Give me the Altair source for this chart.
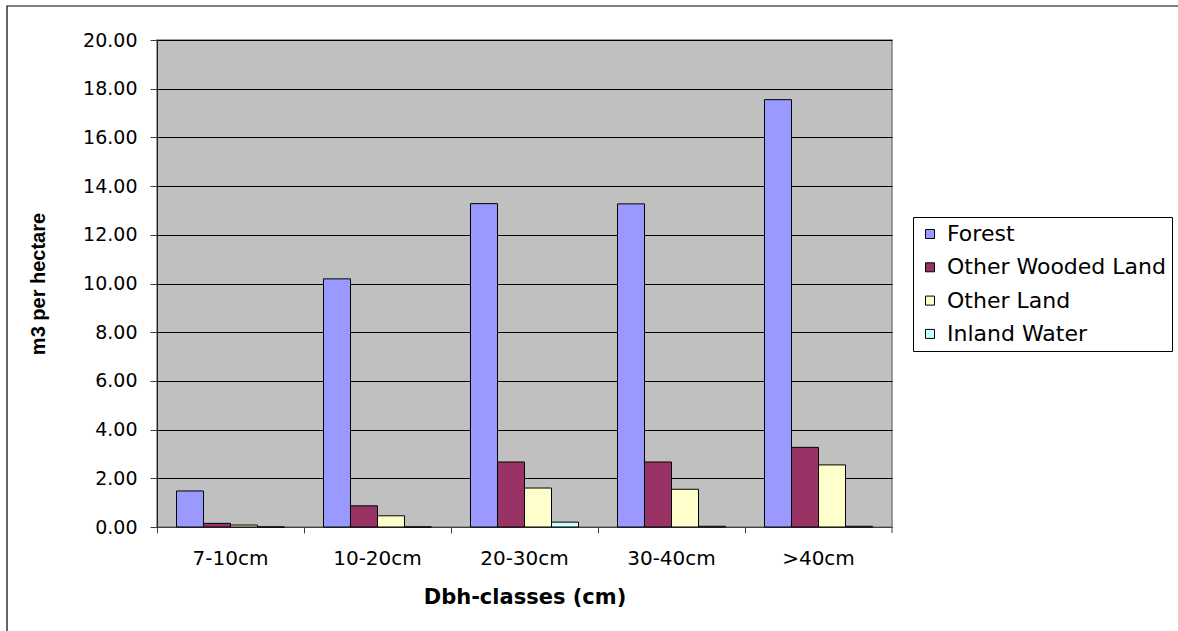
import altair as alt
import pandas as pd

# Standing volume per hectare by diameter class and land category
classes = ["7-10cm", "10-20cm", "20-30cm", "30-40cm", ">40cm"]
series = ["Forest", "Other Wooded Land", "Other Land", "Inland Water"]
forest = [1.48, 10.19, 13.28, 13.27, 17.55]
other_wooded = [0.15, 0.87, 2.67, 2.67, 3.27]
other_land = [0.08, 0.46, 1.60, 1.55, 2.55]
inland_water = [0.00, 0.00, 0.20, 0.03, 0.03]
colors = ["#9999FF", "#993366", "#FFFFCC", "#CCFFFF"]
y_ticks = [0, 2, 4, 6, 8, 10, 12, 14, 16, 18, 20]

rows = []
for name, vals in zip(series, [forest, other_wooded, other_land, inland_water]):
    for cls, v in zip(classes, vals):
        rows.append({"cls": cls, "series": name, "value": v})
df = pd.DataFrame(rows)

W, H = 735, 487
LEFT, TOP = 157, 40
TOTAL_W, TOTAL_H = 1178, 631

bars = alt.Chart(df).mark_bar(stroke="black", strokeWidth=1).encode(
    x=alt.X(
        "cls:N",
        sort=classes,
        scale=alt.Scale(paddingInner=0, paddingOuter=0),
        axis=alt.Axis(
            title="Dbh-classes (cm)",
            labelAngle=0,
            bandPosition=0,
            tickSize=6,
            tickColor="#404040",
            domainColor="#404040",
            labelPadding=15,
            labelFontSize=20,
            labelColor="black",
            titleFontSize=21,
            titleFontWeight="bold",
            titleColor="black",
            titleY=76,
            titleBaseline="alphabetic",
            grid=False,
        ),
    ),
    xOffset=alt.XOffset(
        "series:N", sort=series, scale=alt.Scale(paddingInner=0, paddingOuter=0.722)
    ),
    y=alt.Y(
        "value:Q",
        scale=alt.Scale(domain=[0, 20], nice=False),
        axis=alt.Axis(
            title="m3 per hectare",
            values=y_ticks,
            format=".2f",
            tickSize=7,
            tickColor="#404040",
            domainColor="#202020",
            labelPadding=13,
            labelFontSize=19,
            labelColor="black",
            grid=True,
            gridColor="black",
            gridWidth=1,
            titleFont="Liberation Sans",
            titleFontSize=20,
            titleFontWeight="bold",
            titleColor="black",
            titleAngle=270,
            titleAlign="center",
            titleBaseline="alphabetic",
            titleX=-113,
            titleY=H / 2,
        ),
    ),
    color=alt.Color(
        "series:N",
        sort=series,
        scale=alt.Scale(domain=series, range=colors),
        legend=alt.Legend(
            title=None,
            orient="none",
            legendX=756,
            legendY=177,
            strokeColor="black",
            fillColor="white",
            padding=6,
            rowPadding=11.3,
            labelFontSize=22,
            labelLimit=0,
            labelColor="black",
            labelOffset=6,
            symbolType="square",
            symbolSize=81,
            symbolStrokeColor="black",
            symbolStrokeWidth=1,
            symbolOpacity=1,
        ),
    ),
)

# closing tick at the right end of the category axis
end_tick = alt.Chart(alt.Data(values=[{}])).mark_rule(color="#404040").encode(
    x=alt.value(W), y=alt.value(H), y2=alt.value(H + 6)
)

# outer chart frame
frame = alt.Chart(alt.Data(values=[{}])).mark_rect(
    fill="transparent", stroke="black", strokeWidth=1.2
).encode(
    x=alt.value(7 - LEFT),
    x2=alt.value(TOTAL_W - LEFT + 10),
    y=alt.value(6 - TOP),
    y2=alt.value(TOTAL_H - TOP + 10),
)

chart = alt.layer(bars, end_tick, frame).properties(
    width=W,
    height=H,
    autosize="none",
    padding={"left": LEFT, "top": TOP, "right": TOTAL_W - LEFT - W, "bottom": TOTAL_H - TOP - H},
    background="white",
).configure(
    font="DejaVu Sans",
).configure_view(
    fill="#C0C0C0", stroke="#808080", strokeWidth=1.5
)

chart.save("out.html", embed_options={"renderer": "svg", "actions": False})
